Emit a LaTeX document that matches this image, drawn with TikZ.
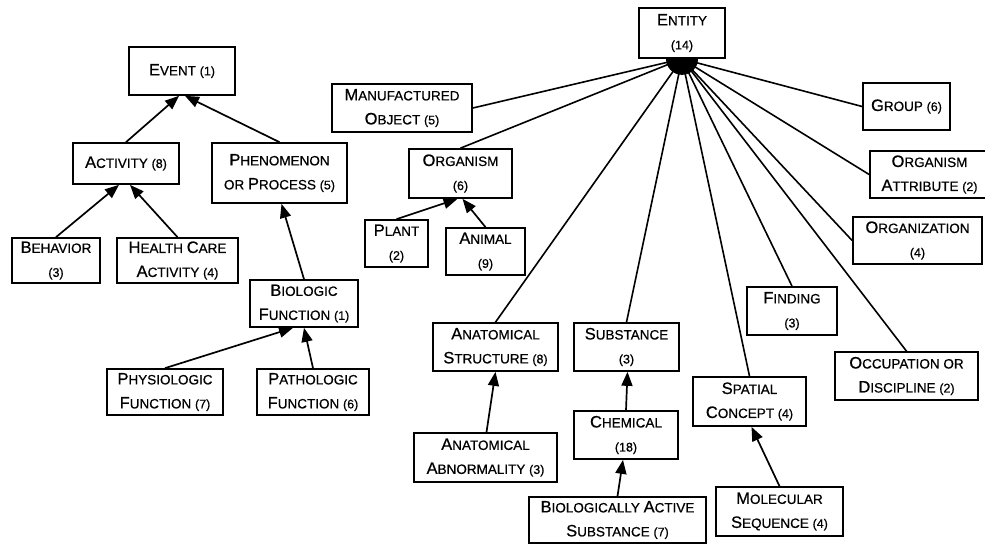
\documentclass[tikz,border=0pt]{standalone}
\usepackage{fontspec}
\setmainfont{Liberation Sans}[FakeBold=0.6]
\usetikzlibrary{arrows.meta}
% hand-made small capitals: larger initial, smaller body, small counts
\newcommand\Ck[1]{{\fontsize{16.5}{24}\selectfont #1}}
\newcommand\Nm[1]{{\fontsize{12.5}{24}\selectfont #1}}
\tikzset{
  box/.style={draw, line width=1.7pt, fill=white, inner sep=0pt, align=center,
    font=\fontsize{13.5}{24}\selectfont},
  isa/.style={line width=1.7pt, -{Triangle[length=14pt,width=11pt]}},
  hubline/.style={line width=1.6pt},
}
\begin{document}
\begin{tikzpicture}[x=1pt,y=-1pt]
\useasboundingbox (0,0) rectangle (985,544);
\fill[white] (0,0) rectangle (985,544);

% Event hierarchy
\node[box, minimum width=106pt, minimum height=48pt] (event) at (182,71) {\Ck{E}VENT \Nm{(1)}};
\node[box, minimum width=106pt, minimum height=41pt] (activity) at (126,163.5) {\Ck{A}CTIVITY \Nm{(8)}};
\node[box, minimum width=135pt, minimum height=60pt] (phen) at (279.5,173) {\Ck{P}HENOMENON\\OR \Ck{P}ROCESS \Nm{(5)}};
\node[box, minimum width=88pt, minimum height=45pt] (behavior) at (56,260.5) {\Ck{B}EHAVIOR\\\Nm{(3)}};
\node[box, minimum width=121pt, minimum height=45pt] (health) at (177.5,260.5) {\Ck{H}EALTH \Ck{C}ARE\\\Ck{A}CTIVITY \Nm{(4)}};
\node[box, minimum width=108pt, minimum height=47pt] (biologic) at (304,303.5) {\Ck{B}IOLOGIC\\\Ck{F}UNCTION \Nm{(1)}};
\node[box, minimum width=116pt, minimum height=46pt] (physio) at (165,392) {\Ck{P}HYSIOLOGIC\\\Ck{F}UNCTION \Nm{(7)}};
\node[box, minimum width=112pt, minimum height=46pt] (patho) at (313,392) {\Ck{P}ATHOLOGIC\\\Ck{F}UNCTION \Nm{(6)}};

\draw[isa] (activity.north) -- ([xshift=-3pt]event.south);
\draw[isa] (phen.north) -- ([xshift=3pt]event.south);
\draw[isa] (behavior.north) -- ([xshift=-7pt]activity.south);
\draw[isa] (health.north) -- ([xshift=4pt]activity.south);
\draw[isa] (biologic.north) -- ([xshift=2pt]phen.south);
\draw[isa] (physio.north) -- ([xshift=-11pt]biologic.south);
\draw[isa] (patho.north) -- (biologic.south);

% Entity hierarchy
\node[box, minimum width=86pt, minimum height=50pt] (entity) at (682,33) {\Ck{E}NTITY\\\Nm{(14)}};
\coordinate (hub) at (entity.south);
\node[box, minimum width=140pt, minimum height=48pt] (manuf) at (402,108) {\Ck{M}ANUFACTURED\\\Ck{O}BJECT \Nm{(5)}};
\node[box, minimum width=103pt, minimum height=49pt] (organism) at (460.5,173.5) {\Ck{O}RGANISM\\\Nm{(6)}};
\node[box, minimum width=63pt, minimum height=47pt] (plant) at (396.5,243.5) {\Ck{P}LANT\\\Nm{(2)}};
\node[box, minimum width=79pt, minimum height=47pt] (animal) at (485.5,251.5) {\Ck{A}NIMAL\\\Nm{(9)}};
\node[box, minimum width=87pt, minimum height=47pt] (group) at (906.5,106.5) {\Ck{G}ROUP \Nm{(6)}};
\node[box, minimum width=119pt, minimum height=47pt] (orgattr) at (929.5,174.5) {\Ck{O}RGANISM\\\Ck{A}TTRIBUTE \Nm{(2)}};
\node[box, minimum width=129pt, minimum height=47pt] (organization) at (917.5,240.5) {\Ck{O}RGANIZATION\\\Nm{(4)}};
\node[box, minimum width=90pt, minimum height=48pt] (finding) at (792,311) {\Ck{F}INDING\\\Nm{(3)}};
\node[box, minimum width=143pt, minimum height=48pt] (occupation) at (906.5,376) {\Ck{O}CCUPATION OR\\\Ck{D}ISCIPLINE \Nm{(2)}};
\node[box, minimum width=125pt, minimum height=48pt] (anatstruct) at (495.5,347) {\Ck{A}NATOMICAL\\\Ck{S}TRUCTURE \Nm{(8)}};
\node[box, minimum width=105pt, minimum height=48pt] (substance) at (626.5,347) {\Ck{S}UBSTANCE\\\Nm{(3)}};
\node[box, minimum width=113pt, minimum height=49pt] (spatial) at (749.5,401.5) {\Ck{S}PATIAL\\\Ck{C}ONCEPT \Nm{(4)}};
\node[box, minimum width=143pt, minimum height=49pt] (anatabn) at (485.5,457.5) {\Ck{A}NATOMICAL\\\Ck{A}BNORMALITY \Nm{(3)}};
\node[box, minimum width=104pt, minimum height=48pt] (chemical) at (626,435) {\Ck{C}HEMICAL\\\Nm{(18)}};
\node[box, minimum width=177pt, minimum height=46pt] (bioactive) at (617.5,520) {\Ck{B}IOLOGICALLY \Ck{A}CTIVE\\\Ck{S}UBSTANCE \Nm{(7)}};
\node[box, minimum width=127pt, minimum height=49pt] (molecular) at (779.5,511.5) {\Ck{M}OLECULAR\\\Ck{S}EQUENCE \Nm{(4)}};

% fan of links into Entity, meeting in one filled head
\foreach \n/\a in {manuf/east, organism/north, anatstruct/north, substance/north,
    spatial/north, finding/north, occupation/north, organization/west,
    orgattr/west, group/west}
  \draw[hubline] (\n.\a) -- (hub);
\fill ([xshift=-16pt]hub) arc[start angle=180, end angle=360, radius=16pt] -- cycle;

\draw[isa] (plant.north) -- ([xshift=-3pt]organism.south);
\draw[isa] (animal.north) -- ([xshift=2pt]organism.south);
\draw[isa] ([xshift=1pt]anatabn.north) -- (anatstruct.south);
\draw[isa] (chemical.north) -- ([xshift=1pt]substance.south);
\draw[isa] (bioactive.north) -- ([xshift=-3pt]chemical.south);
\draw[isa] (molecular.north) -- ([xshift=2pt]spatial.south);
\end{tikzpicture}
\end{document}
